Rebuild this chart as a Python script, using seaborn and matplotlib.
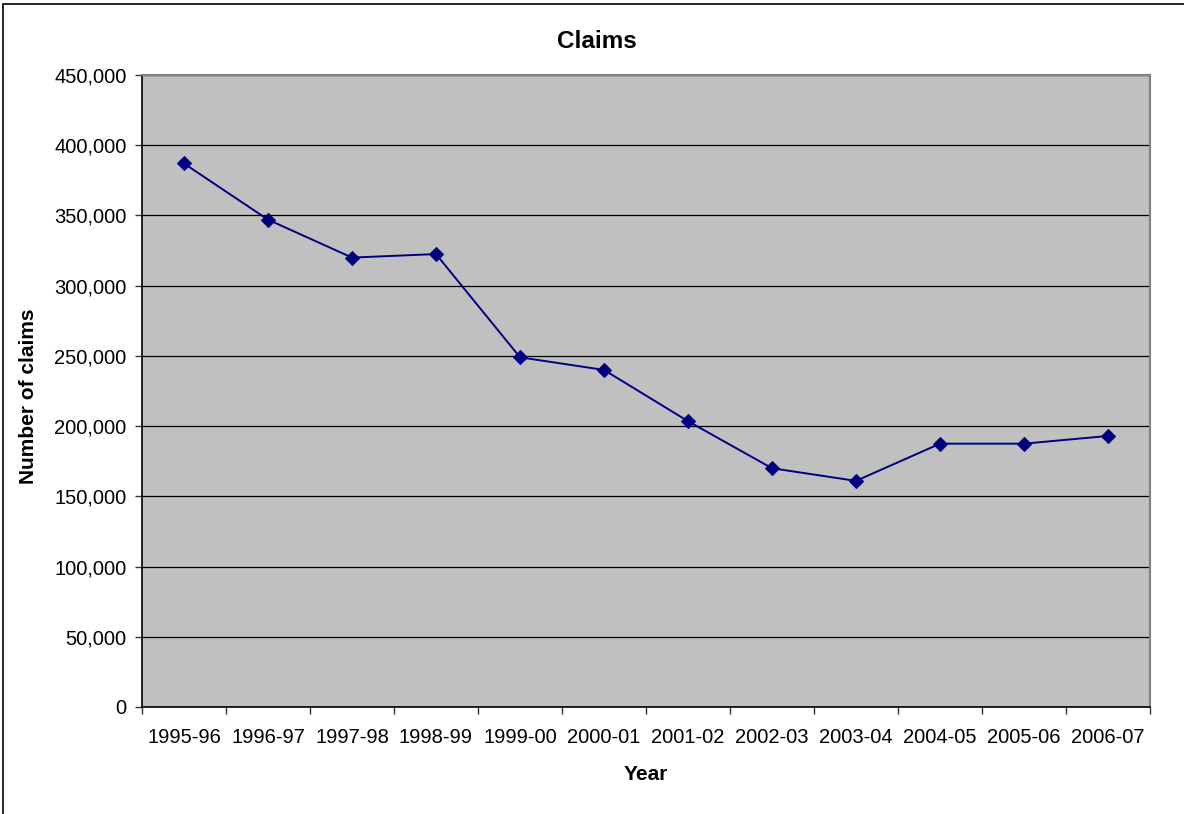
import numpy as np
import pandas as pd
import matplotlib
matplotlib.use('Agg')
import matplotlib.pyplot as plt
import seaborn as sns
from matplotlib.patches import Rectangle
from matplotlib.ticker import FuncFormatter, FixedLocator

years = ['1995-96', '1996-97', '1997-98', '1998-99', '1999-00', '2000-01',
         '2001-02', '2002-03', '2003-04', '2004-05', '2005-06', '2006-07']
claims = [387000, 347000, 320000, 322500, 249000, 240000,
          203500, 170000, 161000, 187500, 187500, 193000]

df = pd.DataFrame({'Year': years, 'Claims': claims})
df['pos'] = np.arange(len(years))

sns.set_style('white')
plt.rcParams['font.family'] = ['Liberation Sans', 'DejaVu Sans']
plt.rcParams['text.color'] = 'black'
plt.rcParams['xtick.color'] = 'black'
plt.rcParams['ytick.color'] = 'black'
plt.rcParams['axes.labelcolor'] = 'black'

fig = plt.figure(figsize=(11.84, 8.14), dpi=100)
ax = fig.add_axes([142 / 1184, 1 - 707 / 814, (1150 - 142) / 1184, (707 - 75) / 814])
ax.set_facecolor('#c0c0c0')

sns.lineplot(data=df, x='pos', y='Claims', ax=ax, color='#000080', lw=1.4,
             marker='D', markersize=7.5, markeredgecolor='#000080', zorder=3)

ax.set_xlim(-0.5, len(years) - 0.5)
ax.set_ylim(0, 450000)
ax.set_yticks(np.arange(0, 450001, 50000))
ax.yaxis.set_major_formatter(FuncFormatter(lambda v, p: f'{int(v):,}'))
ax.grid(axis='y', color='black', lw=0.9)
ax.set_axisbelow(True)

ax.set_xticks(df['pos'])
ax.set_xticklabels(years)
ax.xaxis.set_minor_locator(FixedLocator(np.arange(-0.5, len(years), 1.0)))
ax.tick_params(axis='x', which='major', length=0, pad=15, labelsize=14.5)
ax.tick_params(axis='x', which='minor', length=5, width=1, color='#333333', direction='out', bottom=True)
ax.tick_params(axis='y', length=5, width=1, color='#333333', direction='out', left=True, labelsize=14.5, pad=6)

for s in ['left', 'bottom']:
    ax.spines[s].set_color('black')
    ax.spines[s].set_linewidth(1.2)
for s in ['top', 'right']:
    ax.spines[s].set_color('#808080')
    ax.spines[s].set_linewidth(1.5)

ax.set_xlabel('')
ax.set_ylabel('')
fig.text(597 / 1184, 1 - 41 / 814, 'Claims', fontsize=17.5, fontweight='bold', ha='center', va='center')
fig.text((142 + 1150) / 2 / 1184, 1 - 775 / 814, 'Year', fontsize=15, fontweight='bold', ha='center', va='center')
fig.text(29 / 1184, 1 - 396 / 814, 'Number of claims', fontsize=15, fontweight='bold',
         ha='center', va='center', rotation=90)

fig.patches.append(Rectangle((3 / 1184, -0.01), 1.05, 1 - 4 / 814 + 0.01,
                             transform=fig.transFigure, fill=False,
                             edgecolor='black', lw=1.2))

fig.savefig('out.png', dpi=100)
